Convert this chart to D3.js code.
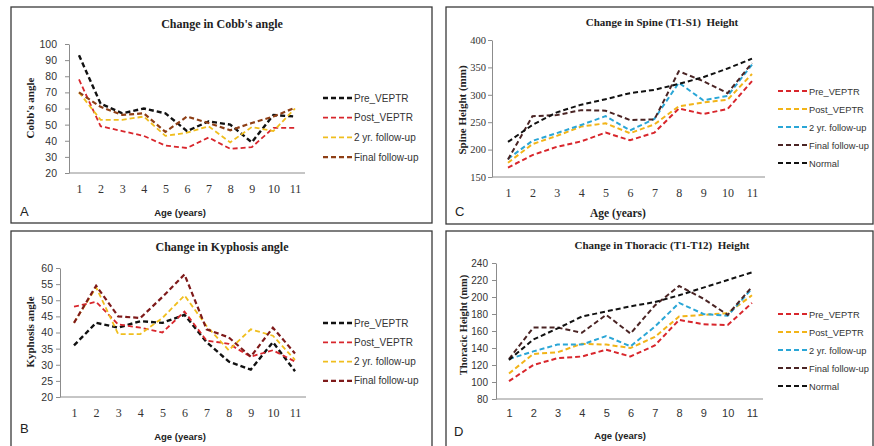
<!DOCTYPE html>
<meta charset="utf-8">
<head>
    <title>VEPTR outcome panels</title>
    <script src="https://d3js.org/d3.v7.min.js"></script>
    <style>
    body { margin: 0; background: #fff; }
    .sans { font-family: "Liberation Sans", Arial, sans-serif; }
    .serif { font-family: "Liberation Serif", "Times New Roman", serif; }
    .axis path, .axis line { stroke: #8c8c8c; }
    </style>
</head>
<body>
<script>

// ages on the category axis
var ages = [1, 2, 3, 4, 5, 6, 7, 8, 9, 10, 11];

// A - Cobb's angle
var cobbPre   = [93, 63, 57, 60, 57, 46, 52, 50, 39, 56, 55];
var cobbPost  = [78, 49, 46, 43, 37, 35.5, 42, 35, 36, 48, 48];
var cobb2yr   = [70, 53, 53, 55, 43, 45, 49, 39, 48.5, 46, 60];
var cobbFinal = [70, 61, 56, 57, 45.5, 55, 51, 46.5, 51, 55, 60.5];

// B - Kyphosis angle
var kyphPre   = [36, 43, 41.5, 43.5, 43, 45.5, 37, 31, 28.5, 37, 28];
var kyphPost  = [48, 49.5, 42.5, 41.5, 40, 46.5, 37.5, 36.5, 32.5, 34.5, 31];
var kyph2yr   = [43, 54, 39.5, 39.5, 44.5, 51.5, 42, 34.5, 41, 39, 31.5];
var kyphFinal = [43, 54.5, 45, 44.5, 51, 58, 41, 38.5, 32.5, 41.5, 33.5];

// C - Spine (T1-S1) height
var spinePre    = [167, 190, 205, 215, 231, 217, 231, 275, 265, 274, 325];
var spinePost   = [176, 210, 225, 242, 248, 230, 246, 279, 286, 291, 338];
var spine2yr    = [183, 216, 230, 245, 261, 235, 256, 322, 290, 298, 355];
var spineFinal  = [182, 261, 263, 272, 271, 254, 255, 343, 325, 303, 358];
var spineNormal = [214, 245, 268, 282, 292, 303, 309, 320, 332, 348, 366];

// D - Thoracic (T1-T12) height
var thorPre    = [101, 120, 128, 130, 138, 130, 143, 173, 168, 167, 193];
var thorPost   = [110, 133, 135, 145, 144, 140, 153, 177, 179, 181, 202];
var thor2yr    = [127, 136, 144, 144, 154, 142, 165, 193, 180, 178, 210];
var thorFinal  = [127, 164, 164, 158, 179, 157, 190, 213, 198, 179, 212];
var thorNormal = [126, 150, 163, 177, 183, 189, 194, 202, 211, 220, 229];

// tick labels
var cobbTicks  = [20, 30, 40, 50, 60, 70, 80, 90, 100];
var kyphTicks  = [20, 25, 30, 35, 40, 45, 50, 55, 60];
var spineTicks = [150, 200, 250, 300, 350, 400];
var thorTicks  = [80, 100, 120, 140, 160, 180, 200, 220, 240];

var svg = d3.select("body").append("svg")
    .attr("width", 874)
    .attr("height", 446);

// one panel = border, title, axes, dashed lines, legend
function drawPanel(p) {
  var g = svg.append("g");

  // panel border
  g.append("rect")
      .attr("x", p.box[0]).attr("y", p.box[1])
      .attr("width", p.box[2]).attr("height", p.box[3])
      .attr("fill", "none").attr("stroke", "#3a3a3a").attr("stroke-width", 1.3);

  var x = d3.scalePoint().domain(ages).range([p.x1, p.x11]);
  var y = d3.scaleLinear().domain(p.domain).range([p.bottom, p.top]);

  // title
  g.append("text")
      .attr("class", "serif")
      .attr("x", p.titleX).attr("y", p.titleY)
      .attr("text-anchor", "middle")
      .style("font-size", p.titleSize).style("font-weight", "bold")
      .attr("fill", "#222")
      .text(p.title);

  // y axis
  var ya = g.append("g")
      .attr("class", "axis")
      .attr("transform", "translate(" + p.left + ",0)")
      .call(d3.axisLeft(y).tickValues(p.ticks).tickSize(4).tickSizeOuter(0).tickPadding(p.yPad));
  ya.selectAll("text")
      .attr("class", p.yFont)
      .style("font-size", p.yTickSize)
      .attr("fill", "#333");

  // x axis: baseline plus category labels
  g.append("line")
      .attr("x1", p.left).attr("x2", p.right)
      .attr("y1", p.bottom).attr("y2", p.bottom)
      .attr("stroke", "#8c8c8c");
  var xa = g.append("g")
      .attr("class", "axis")
      .attr("transform", "translate(0," + p.bottom + ")")
      .call(d3.axisBottom(x).tickSize(0).tickPadding(p.xPad));
  xa.select(".domain").remove();
  xa.selectAll("text")
      .attr("class", p.xFont)
      .style("font-size", p.xFont == "serif" ? "12px" : "11px")
      .attr("fill", "#333");

  // axis titles
  g.append("text")
      .attr("class", p.ageFont)
      .attr("x", p.ageX).attr("y", p.ageY)
      .attr("text-anchor", "middle")
      .style("font-size", p.ageFont == "serif" ? "11.5px" : "9.5px")
      .style("font-weight", "bold")
      .attr("fill", "#222")
      .text("Age (years)");

  g.append("text")
      .attr("class", "serif")
      .attr("transform", "translate(" + p.ylabX + "," + p.ylabY + ") rotate(-90)")
      .attr("text-anchor", "middle")
      .style("font-size", p.ylabSize).style("font-weight", "bold")
      .attr("fill", "#222")
      .text(p.ylabel);

  // panel letter
  g.append("text")
      .attr("class", "sans")
      .attr("x", p.letterX).attr("y", p.letterY)
      .style("font-size", "13px")
      .attr("fill", "#222")
      .text(p.letter);

  var line = d3.line()
      .x(function(d, i) { return x(ages[i]); })
      .y(function(d) { return y(d); });

  p.series.forEach(function(s, k) {
    g.append("path")
        .datum(s.values)
        .attr("d", line)
        .attr("fill", "none")
        .attr("stroke", s.color)
        .attr("stroke-width", s.width)
        .attr("stroke-dasharray", "5,3");

    var ly = p.legY + k * p.legStep;
    g.append("line")
        .attr("x1", p.legX).attr("x2", p.legX + 30)
        .attr("y1", ly).attr("y2", ly)
        .attr("stroke", s.color)
        .attr("stroke-width", s.width)
        .attr("stroke-dasharray", "5,3");
    g.append("text")
        .attr("class", "sans")
        .attr("x", p.legX + 31).attr("y", ly + 3.5)
        .style("font-size", p.legSize)
        .attr("fill", "#333")
        .text(s.name);
  });
}

drawPanel({
  box: [11, 7, 421, 216],
  left: 69, right: 305, top: 44, bottom: 173,
  x1: 79, x11: 295, domain: [20, 100], ticks: cobbTicks, yPad: 8, yTickSize: "10.5px",
  title: "Change in Cobb's angle", titleX: 222, titleY: 28, titleSize: "12px",
  ylabel: "Cobb's angle", ylabX: 34, ylabY: 108, ylabSize: "11px",
  yFont: "sans", xFont: "serif", xPad: 11, ageFont: "sans", ageX: 180, ageY: 216,
  letter: "A", letterX: 20, letterY: 216,
  legX: 323, legY: 98, legStep: 19.7, legSize: "10px",
  series: [
    {name: "Pre_VEPTR", values: cobbPre, color: "#111", width: 2.4},
    {name: "Post_VEPTR", values: cobbPost, color: "#d8262c", width: 1.8},
    {name: "2 yr. follow-up", values: cobb2yr, color: "#f0be1e", width: 1.8},
    {name: "Final follow-up", values: cobbFinal, color: "#8e3f16", width: 2.2}
  ]
});

drawPanel({
  box: [11, 231, 421, 220],
  left: 60, right: 306, top: 268, bottom: 397,
  x1: 74, x11: 295, domain: [20, 60], ticks: kyphTicks, yPad: 3, yTickSize: "10.5px",
  title: "Change in Kyphosis angle", titleX: 222, titleY: 251, titleSize: "12px",
  ylabel: "Kyphosis angle", ylabX: 34, ylabY: 332, ylabSize: "11px",
  yFont: "sans", xFont: "serif", xPad: 11, ageFont: "sans", ageX: 180, ageY: 440,
  letter: "B", letterX: 20, letterY: 433,
  legX: 323, legY: 323, legStep: 19.3, legSize: "10px",
  series: [
    {name: "Pre_VEPTR", values: kyphPre, color: "#111", width: 2.4},
    {name: "Post_VEPTR", values: kyphPost, color: "#d8262c", width: 1.8},
    {name: "2 yr. follow-up", values: kyph2yr, color: "#f0be1e", width: 1.8},
    {name: "Final follow-up", values: kyphFinal, color: "#7e1a1a", width: 2.2}
  ]
});

drawPanel({
  box: [446, 7, 427, 217],
  left: 492, right: 765, top: 40, bottom: 177,
  x1: 508, x11: 752, domain: [150, 400], ticks: spineTicks, yPad: 2, yTickSize: "10.5px",
  title: "Change in Spine (T1-S1)\u00a0 Height", titleX: 662, titleY: 26, titleSize: "11px",
  ylabel: "Spine Height (mm)", ylabX: 466, ylabY: 110, ylabSize: "11px",
  yFont: "serif", xFont: "serif", xPad: 11, ageFont: "serif", ageX: 618, ageY: 217,
  letter: "C", letterX: 455, letterY: 216,
  legX: 778, legY: 91, legStep: 18, legSize: "9.3px",
  series: [
    {name: "Pre_VEPTR", values: spinePre, color: "#d8262c", width: 2},
    {name: "Post_VEPTR", values: spinePost, color: "#f2b418", width: 2},
    {name: "2 yr. follow-up", values: spine2yr, color: "#2aa6d6", width: 2},
    {name: "Final follow-up", values: spineFinal, color: "#4a2424", width: 2},
    {name: "Normal", values: spineNormal, color: "#111", width: 2}
  ]
});

drawPanel({
  box: [446, 231, 427, 220],
  left: 496, right: 763, top: 263, bottom: 399,
  x1: 509, x11: 752, domain: [80, 240], ticks: thorTicks, yPad: 4, yTickSize: "10px",
  title: "Change in Thoracic (T1-T12)\u00a0 Height", titleX: 662, titleY: 249, titleSize: "11px",
  ylabel: "Thoracic Height (mm)", ylabX: 467, ylabY: 325, ylabSize: "10.5px",
  yFont: "sans", xFont: "sans", xPad: 10, ageFont: "sans", ageX: 620, ageY: 439,
  letter: "D", letterX: 454, letterY: 436,
  legX: 778, legY: 314, legStep: 18, legSize: "9.3px",
  series: [
    {name: "Pre_VEPTR", values: thorPre, color: "#d8262c", width: 2},
    {name: "Post_VEPTR", values: thorPost, color: "#f2b418", width: 2},
    {name: "2 yr. follow-up", values: thor2yr, color: "#2aa6d6", width: 2},
    {name: "Final follow-up", values: thorFinal, color: "#4a2424", width: 2},
    {name: "Normal", values: thorNormal, color: "#111", width: 2}
  ]
});

</script>
</body>
